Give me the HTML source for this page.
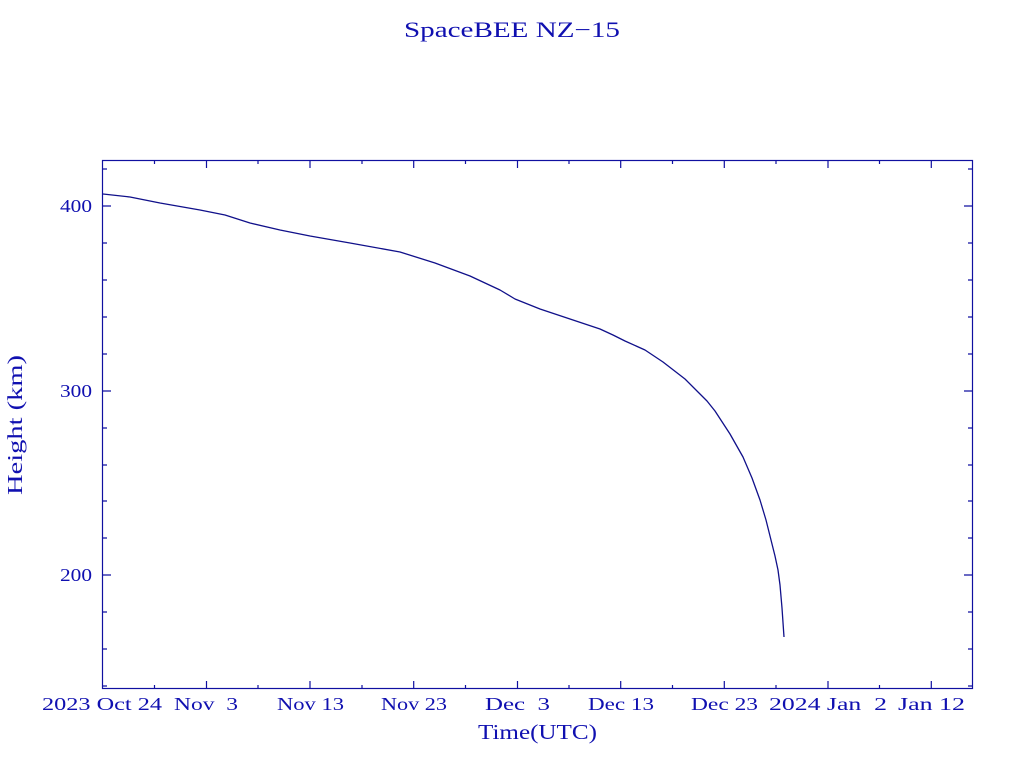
<!DOCTYPE html>
<html><head><meta charset="utf-8"><style>
body{margin:0;background:#fff;width:1024px;height:768px;overflow:hidden}
text{font-family:"Liberation Serif",serif;fill:#1010b0;white-space:pre}
</style></head><body>
<svg width="1024" height="768" xmlns="http://www.w3.org/2000/svg" xml:space="preserve">
<text x="404" y="37" font-size="22" textLength="216" lengthAdjust="spacingAndGlyphs">SpaceBEE NZ−15</text>
<rect x="102.5" y="160.5" width="870" height="528" fill="none" stroke="#1010a0" stroke-width="1.2"/>
<g stroke="#1010a0" stroke-width="1.2">
<path d="M102 206h9M102 391h9M102 575h9M973 206h-9M973 391h-9M973 575h-9"/>
<path d="M102 169h5M102 243h5M102 280h5M102 317h5M102 354h5M102 428h5M102 465h5M102 501h5M102 538h5M102 612h5M102 649h5M102 686h5
M973 169h-5M973 243h-5M973 280h-5M973 317h-5M973 354h-5M973 428h-5M973 465h-5M973 501h-5M973 538h-5M973 612h-5M973 649h-5M973 686h-5"/>
<path d="M206.5 689v-8M310 689v-8M413.7 689v-8M517.5 689v-8M620.7 689v-8M724.3 689v-8M828 689v-8M931.3 689v-8
M206.5 160v8M310 160v8M413.7 160v8M517.5 160v8M620.7 160v8M724.3 160v8M828 160v8M931.3 160v8"/>
<path d="M154.5 689v-4M258 689v-4M362 689v-4M465.5 689v-4M569 689v-4M672.5 689v-4M776 689v-4M879.5 689v-4
M154.5 160v4M258 160v4M362 160v4M465.5 160v4M569 160v4M672.5 160v4M776 160v4M879.5 160v4"/>
</g>
<g font-size="18">
<text x="60" y="212" textLength="32" lengthAdjust="spacingAndGlyphs">400</text>
<text x="60" y="397" textLength="32" lengthAdjust="spacingAndGlyphs">300</text>
<text x="60" y="581" textLength="32" lengthAdjust="spacingAndGlyphs">200</text>
<text x="42" y="710" textLength="120" lengthAdjust="spacingAndGlyphs">2023 Oct 24</text>
<text x="174" y="710" textLength="64" lengthAdjust="spacingAndGlyphs">Nov  3</text>
<text x="277" y="710" textLength="67" lengthAdjust="spacingAndGlyphs">Nov 13</text>
<text x="381" y="710" textLength="66" lengthAdjust="spacingAndGlyphs">Nov 23</text>
<text x="485" y="710" textLength="65" lengthAdjust="spacingAndGlyphs">Dec  3</text>
<text x="588" y="710" textLength="66" lengthAdjust="spacingAndGlyphs">Dec 13</text>
<text x="691" y="710" textLength="67" lengthAdjust="spacingAndGlyphs">Dec 23</text>
<text x="769" y="710" textLength="118" lengthAdjust="spacingAndGlyphs">2024 Jan  2</text>
<text x="898" y="710" textLength="67" lengthAdjust="spacingAndGlyphs">Jan 12</text>
</g>
<text x="478" y="739" font-size="21" textLength="119" lengthAdjust="spacingAndGlyphs">Time(UTC)</text>
<text transform="translate(22,495) rotate(-90)" font-size="21" textLength="140" lengthAdjust="spacingAndGlyphs">Height (km)</text>
<polyline fill="none" stroke="#10108a" stroke-width="1.3" stroke-linejoin="round" points="103,194 130,197 160,203 200,210 225,215 250,223 280,230 310,236 350,243 400,252 435,263 470,276 500,290 515,299 540,309 570,319 600,329 613,335 625,341 645,350 663,362 685,379 700,394 707,401 715,411 730,434 743,457 752,478 760,500 766,520 771,540 775,556 778,570 780,585 782,608 784,637"/>
</svg>
</body></html>
